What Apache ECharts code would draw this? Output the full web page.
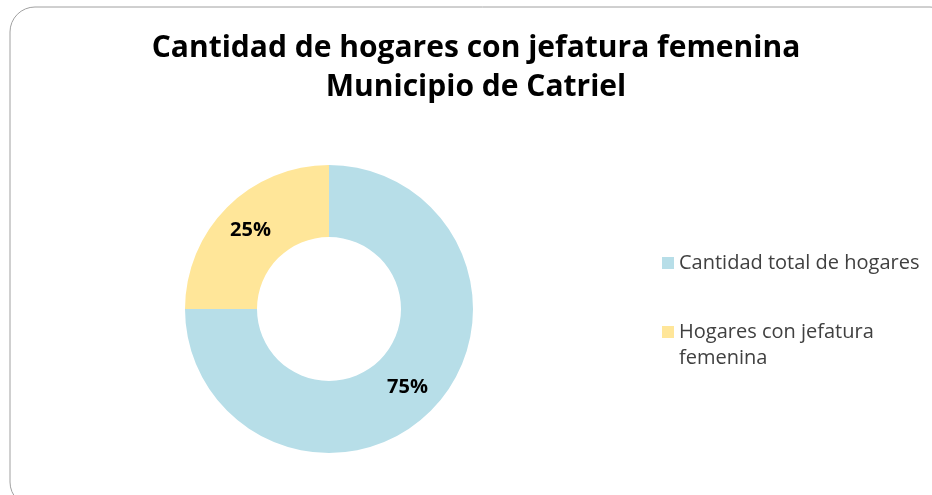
<!DOCTYPE html>
<html>
<head>
<meta charset="utf-8">
<script src="https://cdn.jsdelivr.net/npm/echarts@6/dist/echarts.min.js"></script>
<style>
  html, body { margin: 0; padding: 0; background: #fff; }
  #chart { width: 932px; height: 495px; }
</style>
</head>
<body>
<div id="chart"></div>
<script>
// data
const titleLines = ['Cantidad de hogares con jefatura femenina', 'Municipio de Catriel']
const categories = ['Cantidad total de hogares', 'Hogares con jefatura femenina']
const values = [75, 25]
const colors = ['#B7DEE8', '#FFE699']

const chart = echarts.init(document.getElementById('chart'))

const seriesData = categories.map((name, i) => ({
  name: name,
  value: values[i],
  itemStyle: { color: colors[i] }
}))

chart.setOption({
  animation: false,
  graphic: [{
    type: 'rect',
    shape: { x: 10, y: 7, width: 945, height: 500, r: 25 },
    style: { fill: 'none', stroke: '#a0a0a0', lineWidth: 1 },
    silent: true
  }],
  title: {
    text: titleLines.join('\n'),
    left: 476,
    top: 29,
    padding: 0,
    textAlign: 'center',
    textStyle: {
      fontFamily: 'Open Sans',
      fontWeight: 'bold',
      fontSize: 30,
      lineHeight: 39,
      color: '#000'
    }
  },
  legend: {
    orient: 'vertical',
    left: 657,
    top: 245,
    itemWidth: 12,
    itemHeight: 12,
    itemGap: 17,
    icon: 'rect',
    formatter: function (name) {
      // keep the square on the first line of a wrapped name
      if (name === 'Hogares con jefatura femenina') {
        return '\nHogares con jefatura\nfemenina'
      }
      return name
    },
    textStyle: {
      fontFamily: 'Open Sans',
      fontSize: 20,
      lineHeight: 26,
      color: '#404040'
    }
  },
  series: [{
    type: 'pie',
    center: [329, 309],
    radius: [72, 144],
    startAngle: 90,
    clockwise: true,
    data: seriesData,
    label: {
      show: true,
      position: 'inside',
      formatter: '{d}%',
      fontFamily: 'Open Sans',
      fontWeight: 'bold',
      fontSize: 20,
      color: '#000'
    },
    labelLine: { show: false },
    emphasis: { disabled: true }
  }]
})
</script>
</body>
</html>
